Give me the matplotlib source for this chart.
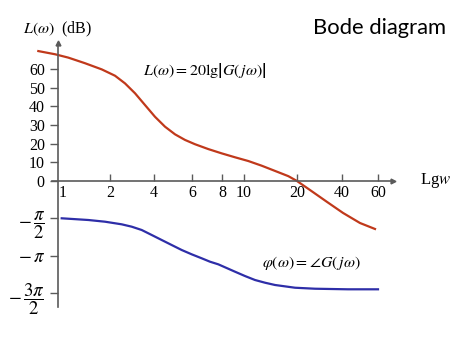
import numpy as np
import matplotlib.pyplot as plt

plt.rcParams['font.family'] = 'Liberation Serif'
plt.rcParams['mathtext.fontset'] = 'stix'

# frequency ticks
w_ticks = [1, 2, 4, 6, 8, 10, 20, 40, 60]
w_tick_labels = ['1', '2', '4', '6', '8', '10', '20', '40', '60']

# magnitude L(w) in dB
w_mag = [0.695, 0.889, 1.081, 1.383, 1.770, 2.164, 2.533, 2.966, 3.471, 4.043,
         4.498, 5.006, 5.569, 6.175, 7.015, 7.978, 9.13, 10.58, 12.60, 15.00,
         17.85, 20.0, 24.4, 31.75, 40.45, 48.98, 58.0]
L_db = [69.6, 67.9, 66.1, 63.1, 59.8, 56.4, 52.3, 47.0, 40.7, 34.4,
        29.1, 25.0, 22.0, 19.7, 17.1, 14.8, 12.7, 10.7, 8.2, 5.4,
        2.6, 0.0, -4.8, -11.2, -17.1, -22.5, -25.7]

# phase in degrees
w_ph = [0.981, 1.453, 1.858, 2.404, 2.815, 3.296, 3.857, 4.342, 4.832, 5.376,
        5.981, 6.586, 7.131, 7.72, 9.13, 10.13, 11.55, 13.16, 15.0, 19.49,
        26.4, 42.8, 60.0]
phase = [-90.0, -94.1, -98.2, -104.5, -110.2, -118.2, -130.2, -142.3, -154.4, -166.4,
         -176.8, -186.4, -194.6, -200.9, -218.7, -229.1, -238.7, -245.2, -250.7, -257.3,
         -259.7, -261.1, -261.1]

db_ticks = [0, 10, 20, 30, 40, 50, 60]
ph_ticks = [-90, -180, -270]
ph_tick_labels = [r'$-\,\dfrac{\pi}{2}$', r'$-\,\pi$', r'$-\,\dfrac{3\pi}{2}$']

# the hand drawn axis is not a true log axis: stretch it piecewise
# (pixel position of each frequency tick in the 474x355 picture)
tick_px = [63, 110, 154, 192, 222, 244, 297, 342, 378]
lw = np.log10(w_ticks)
px = np.array(tick_px, dtype=float)
sl = (px[1] - px[0]) / (lw[1] - lw[0])
sr = (px[-1] - px[-2]) / (lw[-1] - lw[-2])
lw_ext = np.concatenate([[-3], lw, [4]])
px_ext = np.concatenate([[px[0] - sl * (lw[0] + 3)], px, [px[-1] + sr * (4 - lw[-1])]])


def fwd(w):
    w = np.clip(np.asarray(w, dtype=float), 1e-3, None)
    return np.interp(np.log10(w), lw_ext, px_ext)


def inv(p):
    return 10 ** np.interp(np.asarray(p, dtype=float), px_ext, lw_ext)


W, H = 474, 355
fig = plt.figure(figsize=(W / 100, H / 100), dpi=100)
ax = fig.add_axes([52 / W, (H - 307) / H, (400 - 52) / W, (307 - 43) / H])
ax.set_xscale('function', functions=(fwd, inv))
ax.set_xlim(inv(52), inv(400))

px_per_db = (181 - 69) / 60
ax.set_ylim(-(307 - 181) / px_per_db, (181 - 43) / px_per_db)

axis_col = '#5a5a5a'
for s in ['top', 'right']:
    ax.spines[s].set_visible(False)
ax.spines['left'].set_position(('data', inv(58)))
ax.spines['bottom'].set_position(('data', 0))
ax.spines['bottom'].set_bounds(inv(52), inv(393))
for s in ['left', 'bottom']:
    ax.spines[s].set_color(axis_col)
    ax.spines[s].set_linewidth(1.2)

ax.set_xticks(w_ticks)
ax.set_xticklabels(w_tick_labels)
ax.xaxis.set_minor_locator(plt.NullLocator())
ax.xaxis.get_major_ticks()[0].tick1line.set_visible(False)
ax.tick_params(axis='x', direction='in', length=5, width=1, color=axis_col,
               labelsize=11.5, pad=3)
ax.set_yticks(db_ticks)
ax.set_yticklabels([str(v) for v in db_ticks])
ax.tick_params(axis='y', direction='out', length=5.5, width=1, color=axis_col,
               labelsize=11.5, pad=4)

ax.plot(w_mag, L_db, color='#c0391b', lw=1.6, clip_on=False)

# arrow heads
ax.plot([inv(393)], [0], marker='>', ms=3.5, color=axis_col, clip_on=False)
ax.plot([inv(58)], [ax.get_ylim()[1]], marker='^', ms=3.5, color=axis_col, clip_on=False)

# phase on a twin axis
ax2 = ax.twinx()
px_per_deg = (293 - 218.3) / 180
ax2.set_ylim(-90 - (307 - 218.3) / px_per_deg, -90 + (218.3 - 43) / px_per_deg)
for s in ax2.spines.values():
    s.set_visible(False)
ax2.spines['left'].set_position(('data', inv(58)))
ax2.yaxis.tick_left()
ax2.set_yticks(ph_ticks)
ax2.set_yticklabels(ph_tick_labels)
ax2.tick_params(axis='y', direction='out', length=5.5, width=1, color=axis_col,
                labelsize=13.5, pad=4, left=True, labelleft=True,
                right=False, labelright=False)
ax2.plot(w_ph, phase, color='#2e2ea8', lw=1.6, clip_on=False)

# texts
fig.text(23 / W, 1 - 29 / H, r'$L(\omega)$  (dB)', fontsize=11.5, va='center', ha='left')
fig.text(420 / W, 1 - 181 / H, r'Lg$w$', fontsize=12, va='center', ha='left')
fig.text(143 / W, 1 - 70 / H, r'$L(\omega) = \mathrm{20lg}\left|G(\,j\omega)\right|$',
         fontsize=11.5, va='center', ha='left')
fig.text(262 / W, 1 - 263 / H, r'$\varphi(\omega) = \angle G(\,j\omega)$',
         fontsize=11.5, va='center', ha='left')
fig.text(313 / W, 1 - 28 / H, 'Bode diagram', fontsize=15.8, family='Lato',
         va='center', ha='left')

fig.savefig('out.png', dpi=100)
